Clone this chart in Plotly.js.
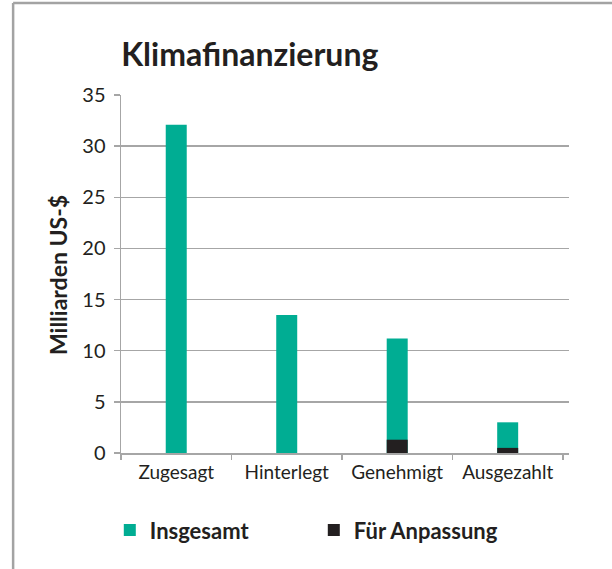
<!DOCTYPE html>
<html>
<head>
<meta charset="utf-8">
<script src="https://cdn.plot.ly/plotly-3.0.1.min.js"></script>
<style>
  html, body { margin: 0; padding: 0; background: #ffffff; }
  #chart { width: 612px; height: 569px; }
</style>
</head>
<body>
<div id="chart"></div>
<script>
const categories = ["Zugesagt", "Hinterlegt", "Genehmigt", "Ausgezahlt"];
const insgesamt = [32.1, 13.5, 11.2, 3.0];
const fuerAnpassung = [0, 0, 1.3, 0.5];
const seriesNames = ["Insgesamt", "Für Anpassung"];
const yTicks = [0, 5, 10, 15, 20, 25, 30, 35];

const FONT = "Lato, 'Open Sans', sans-serif";
const TEXT = "#231f20";
const GRID = "#a6a6a6";

const traces = [
  {
    type: "bar",
    name: seriesNames[0],
    x: categories,
    y: insgesamt,
    width: 0.19,
    marker: { color: "#00ad93" },
    hoverinfo: "x+y"
  },
  {
    type: "bar",
    name: seriesNames[1],
    x: categories,
    y: fuerAnpassung,
    width: 0.19,
    marker: { color: "#231f20" },
    hoverinfo: "x+y"
  }
];

const layout = {
  width: 612,
  height: 569,
  paper_bgcolor: "#ffffff",
  plot_bgcolor: "#ffffff",
  barmode: "overlay",
  margin: { l: 121, r: 43, t: 95, b: 116, pad: 0 },
  font: { family: FONT, color: TEXT },
  title: {
    text: "<b>Klimafinanzierung</b>",
    font: { family: FONT, size: 32, color: TEXT },
    xref: "container", x: 0.198, xanchor: "left",
    yref: "container", y: 0.903, yanchor: "middle"
  },
  xaxis: {
    type: "category",
    range: [-0.5, 3.555],
    tickson: "boundaries",
    ticks: "outside",
    ticklen: 5,
    tickwidth: 1.5,
    tickcolor: GRID,
    showline: true,
    linecolor: GRID,
    linewidth: 1.5,
    showgrid: false,
    ticklabelstandoff: 2,
    tickfont: { family: FONT, size: 19, color: TEXT },
    fixedrange: true
  },
  yaxis: {
    range: [0, 35],
    tickvals: yTicks,
    ticktext: yTicks.map(String),
    ticks: "outside",
    ticklen: 6,
    tickwidth: 1.5,
    tickcolor: GRID,
    showline: true,
    linecolor: GRID,
    linewidth: 1.5,
    showgrid: true,
    gridcolor: GRID,
    gridwidth: 1.5,
    zeroline: false,
    ticklabelstandoff: 4,
    tickfont: { family: FONT, size: 20, color: TEXT },
    fixedrange: true
  },
  annotations: [
    {
      text: "<b>Milliarden US-$</b>",
      textangle: -90,
      xref: "paper", yref: "paper",
      x: -0.1407, xanchor: "center",
      y: 0.497, yanchor: "middle",
      showarrow: false,
      font: { family: FONT, size: 23, color: TEXT }
    }
  ],
  showlegend: true,
  legend: {
    orientation: "h",
    x: -0.025, xanchor: "left",
    y: -0.157, yanchor: "top",
    entrywidth: 159,
    entrywidthmode: "pixels",
    font: { family: FONT, size: 22, color: TEXT, weight: "bold" },
    traceorder: "normal",
    bgcolor: "rgba(0,0,0,0)"
  },
  shapes: [
    {
      type: "line", xref: "paper", yref: "paper",
      x0: -0.2408, x1: -0.2408, y0: 1.2569, y1: -0.6,
      line: { color: "#a3a3a3", width: 2.5 }
    },
    {
      type: "line", xref: "paper", yref: "paper",
      x0: -0.2408, x1: 1.2, y0: 1.2569, y1: 1.2569,
      line: { color: "#a3a3a3", width: 2.5 }
    }
  ]
};

Plotly.newPlot("chart", traces, layout, { displayModeBar: false, staticPlot: true });
</script>
</body>
</html>
